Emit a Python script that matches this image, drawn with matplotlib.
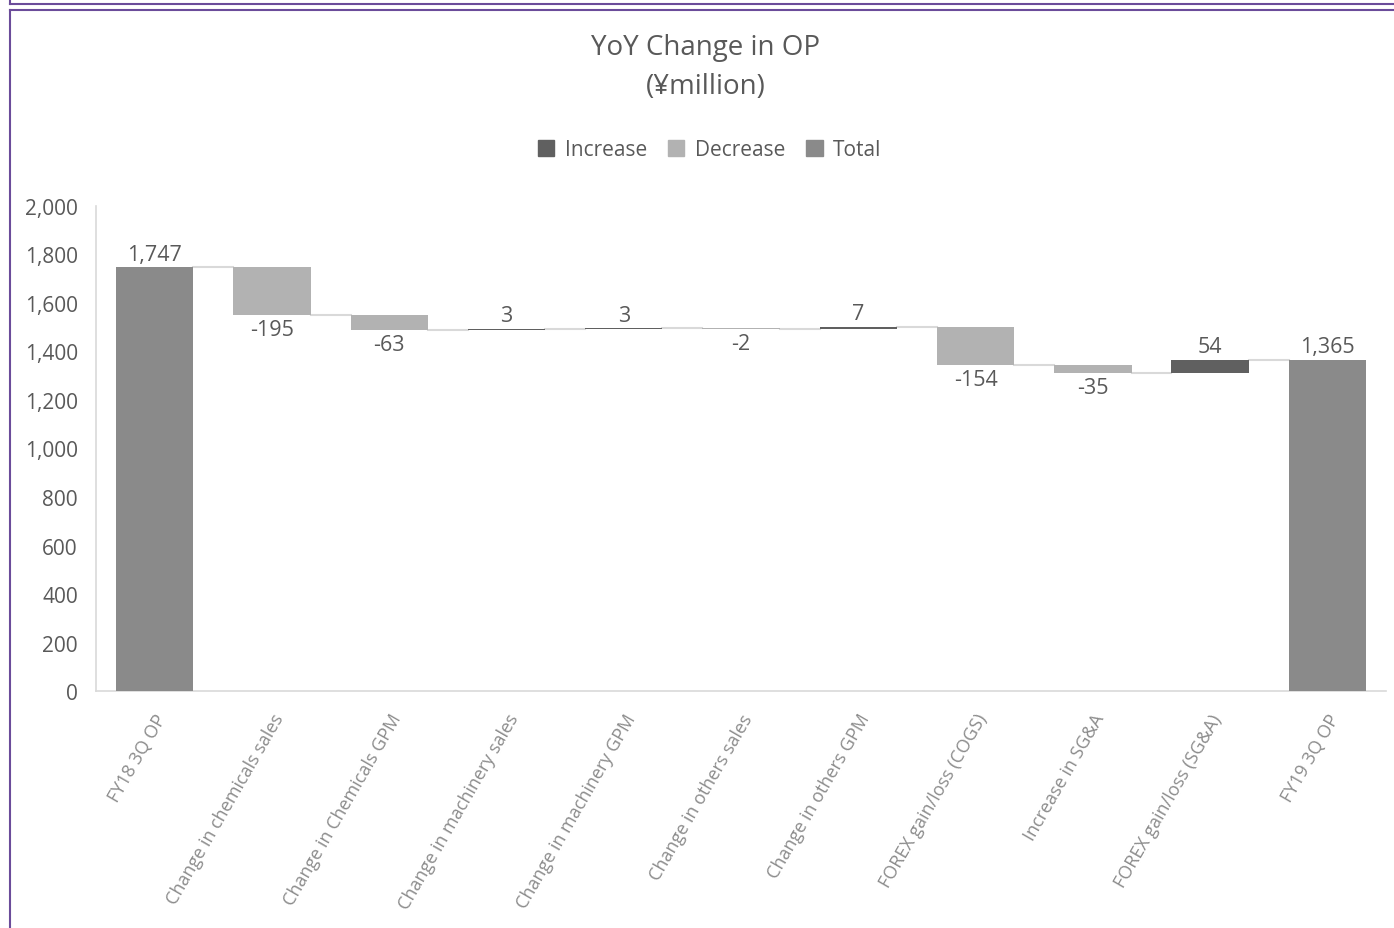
import matplotlib
matplotlib.use("Agg")
import matplotlib.pyplot as plt
from matplotlib.patches import Patch
from matplotlib.lines import Line2D

plt.rcParams['font.family'] = ['Open Sans', 'DejaVu Sans']

# ---- data ----
categories = [
    "FY18 3Q OP", "Change in chemicals sales", "Change in Chemicals GPM",
    "Change in machinery sales", "Change in machinery GPM", "Change in others sales",
    "Change in others GPM", "FOREX gain/loss (COGS)", "Increase in SG&A",
    "FOREX gain/loss (SG&A)", "FY19 3Q OP",
]
values = [1747, -195, -63, 3, 3, -2, 7, -154, -35, 54, 1365]
is_total = [True, False, False, False, False, False, False, False, False, False, True]

C_INC = "#606060"
C_DEC = "#b2b2b2"
C_TOT = "#8a8a8a"
TXT = "#595959"

fig = plt.figure(figsize=(13.94, 9.29), dpi=100)
ax = fig.add_axes([0.0689, 0.2551, 0.9254, 0.5221])

# waterfall: floating bars from the running level
running = 0
bottoms, heights, colors, levels = [], [], [], []
for v, tot in zip(values, is_total):
    if tot:
        bottoms.append(0); heights.append(v); colors.append(C_TOT)
        running = v
    else:
        start = running
        running = running + v
        bottoms.append(min(start, running)); heights.append(abs(v))
        colors.append(C_INC if v > 0 else C_DEC)
    levels.append(running)

x = list(range(len(values)))
w = 0.66
ax.bar(x, heights, bottom=bottoms, width=w, color=colors, zorder=3)

# connectors
for i in range(len(values) - 1):
    ax.plot([i + w / 2, i + 1 - w / 2], [levels[i], levels[i]],
            color="#d9d9d9", lw=1.5, zorder=2)

# data labels
for i, (v, tot) in enumerate(zip(values, is_total)):
    lab = f"{v:,}"
    if tot or v > 0:
        ax.annotate(lab, (i, bottoms[i] + heights[i]), xytext=(0, 2),
                    textcoords="offset points", ha="center", va="bottom",
                    fontsize=15.5, color=TXT)
    else:
        ax.annotate(lab, (i, bottoms[i]), xytext=(0, -3),
                    textcoords="offset points", ha="center", va="top",
                    fontsize=15.5, color=TXT)

ax.set_xlim(-0.5, len(values) - 0.5)
ax.set_ylim(0, 2000)
ax.set_yticks(range(0, 2001, 200))
ax.set_yticklabels([f"{t:,}" for t in range(0, 2001, 200)])
ax.tick_params(axis="y", length=0, labelsize=15, labelcolor=TXT, pad=13)
ax.set_xticks(x)
ax.set_xticklabels(categories, rotation=60, ha="right", va="top",
                   rotation_mode="anchor", fontsize=13, color="#8c8c8c")
ax.tick_params(axis="x", length=0, pad=14)

for s in ["top", "right"]:
    ax.spines[s].set_visible(False)
ax.spines["left"].set_color("#d9d9d9")
ax.spines["bottom"].set_color("#d9d9d9")
ax.spines["left"].set_linewidth(1.2)
ax.spines["bottom"].set_linewidth(1.2)

# title and legend
fig.text(0.506, 0.948, "YoY Change in OP", ha="center", va="center",
         fontsize=20, color=TXT)
fig.text(0.506, 0.906, "(¥million)", ha="center", va="center",
         fontsize=20, color=TXT)

handles = [Patch(color=C_INC, label="Increase"),
           Patch(color=C_DEC, label="Decrease"),
           Patch(color=C_TOT, label="Total")]
fig.legend(handles=handles, loc="center", bbox_to_anchor=(0.509, 0.838),
           ncol=3, frameon=False, fontsize=15, handlelength=0.8,
           handleheight=0.8, handletextpad=0.5, columnspacing=1.0,
           labelcolor=TXT)

# frame borders
purple = "#6b4c9a"
fig.add_artist(Line2D([10 / 1394, 1], [1 - 5 / 929, 1 - 5 / 929],
                      color=purple, lw=1.5, transform=fig.transFigure))
fig.add_artist(Line2D([10 / 1394, 1], [1 - 11 / 929, 1 - 11 / 929],
                      color=purple, lw=1.5, transform=fig.transFigure))
fig.add_artist(Line2D([10 / 1394, 10 / 1394], [0, 1 - 11 / 929],
                      color=purple, lw=1.5, transform=fig.transFigure))
fig.add_artist(Line2D([10 / 1394, 10 / 1394], [1 - 5 / 929, 1],
                      color=purple, lw=1.5, transform=fig.transFigure))

fig.savefig("out.png", dpi=100)
